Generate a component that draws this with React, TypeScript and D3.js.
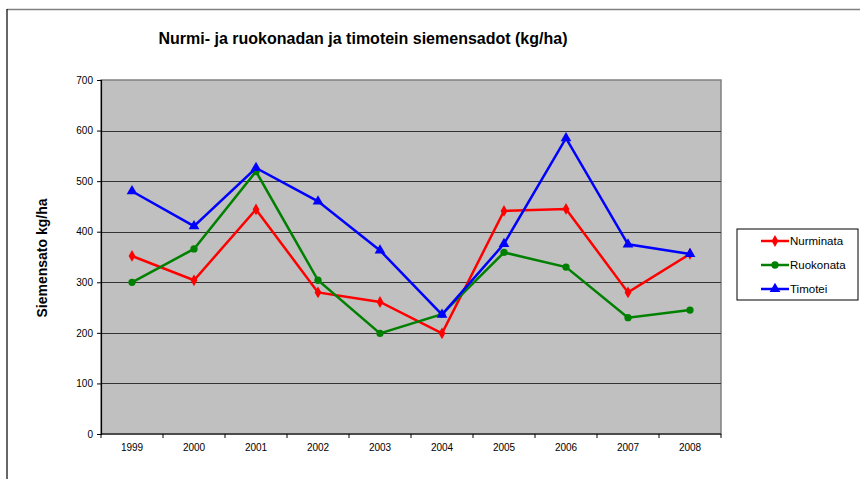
import React, { useEffect, useRef } from "react";
import * as d3 from "d3";

const years = ["1999", "2000", "2001", "2002", "2003", "2004", "2005", "2006", "2007", "2008"];
const nurminata = [352, 304, 444, 280, 261, 199, 441, 445, 280, 356];
const ruokonata = [300, 366, 519, 304, 199, 237, 359, 330, 230, 245];
const timotei = [480, 411, 526, 460, 363, 236, 376, 585, 375, 356];
const yTicks = [0, 100, 200, 300, 400, 500, 600, 700];

const series = [
  { name: "Nurminata", values: nurminata, color: "#FF0000", marker: "diamond" },
  { name: "Ruokonata", values: ruokonata, color: "#008000", marker: "circle" },
  { name: "Timotei", values: timotei, color: "#0000FF", marker: "triangle" },
];

const W = 860;
const H = 479;
const plot = { left: 101, top: 80, right: 721, bottom: 434 };
const font = "Arial, 'Liberation Sans', sans-serif";

const App = () => {
  const ref = useRef<SVGSVGElement>(null);

  useEffect(() => {
    const svg = d3.select(ref.current);
    svg.selectAll("*").remove();

    // outer frame
    svg.append("line").attr("x1", 7).attr("x2", W).attr("y1", 9.5).attr("y2", 9.5)
      .attr("stroke", "#808080").attr("stroke-width", 1.5);
    svg.append("line").attr("x1", 7).attr("x2", 7).attr("y1", 9).attr("y2", H)
      .attr("stroke", "#000").attr("stroke-width", 1.2);

    const x = d3.scaleBand().domain(years).range([plot.left, plot.right]);
    const y = d3.scaleLinear().domain([0, 700]).range([plot.bottom, plot.top]);

    svg.append("rect")
      .attr("x", plot.left).attr("y", plot.top)
      .attr("width", plot.right - plot.left).attr("height", plot.bottom - plot.top)
      .attr("fill", "#C0C0C0").attr("stroke", "#808080").attr("stroke-width", 1.5);

    // gridlines
    svg.append("g").selectAll("line")
      .data(yTicks.filter((t) => t > 0 && t < 700))
      .join("line")
      .attr("x1", plot.left).attr("x2", plot.right)
      .attr("y1", (d) => Math.round(y(d)) + 0.5).attr("y2", (d) => Math.round(y(d)) + 0.5)
      .attr("stroke", "#333").attr("stroke-width", 1.2);

    // y axis
    const ya = svg.append("g").attr("transform", `translate(${plot.left},0)`)
      .call(d3.axisLeft(y).tickValues(yTicks).tickSize(4).tickFormat(d3.format("d")));
    ya.select(".domain").attr("stroke", "#000").attr("stroke-width", 1.2);
    ya.selectAll(".tick line").attr("stroke", "#000");
    ya.selectAll("text").attr("font-family", font).attr("font-size", 10).attr("fill", "#000").attr("x", -8);

    // x axis
    const xa = svg.append("g").attr("transform", `translate(0,${plot.bottom})`);
    xa.append("line").attr("x1", plot.left).attr("x2", plot.right).attr("y1", 0).attr("y2", 0)
      .attr("stroke", "#000").attr("stroke-width", 1.2);
    xa.selectAll(".tk").data([...years.map((d) => x(d) as number), plot.right])
      .join("line").attr("class", "tk")
      .attr("x1", (d) => d).attr("x2", (d) => d).attr("y1", 0).attr("y2", 4)
      .attr("stroke", "#000");
    xa.selectAll("text").data(years).join("text")
      .attr("x", (d) => (x(d) as number) + x.bandwidth() / 2).attr("y", 17)
      .attr("text-anchor", "middle").attr("font-family", font).attr("font-size", 10)
      .text((d) => d);

    const cx = (i: number) => (x(years[i]) as number) + x.bandwidth() / 2;
    const line = d3.line<number>().x((_, i) => cx(i)).y((d) => y(d));

    const markerPath = (m: string) =>
      m === "diamond"
        ? d3.symbol(d3.symbolDiamond, 40)()
        : m === "circle"
        ? d3.symbol(d3.symbolCircle, 42)()
        : d3.symbol(d3.symbolTriangle, 50)();

    series.forEach((s) => {
      svg.append("path").datum(s.values).attr("d", line)
        .attr("fill", "none").attr("stroke", s.color).attr("stroke-width", 2.5);
      svg.append("g").selectAll("path").data(s.values).join("path")
        .attr("d", markerPath(s.marker) as string)
        .attr("transform", (d, i) => `translate(${cx(i)},${y(d)})`)
        .attr("fill", s.color);
    });

    // title
    svg.append("text").attr("x", 363).attr("y", 44).attr("text-anchor", "middle")
      .attr("font-family", font).attr("font-size", 16).attr("font-weight", "bold")
      .text("Nurmi- ja ruokonadan ja timotein siemensadot (kg/ha)");

    // y label
    svg.append("text").attr("transform", `translate(47,258) rotate(-90)`)
      .attr("text-anchor", "middle").attr("font-family", font).attr("font-size", 14)
      .attr("font-weight", "bold").text("Siemensato kg/ha");

    // legend
    const lg = svg.append("g");
    lg.append("rect").attr("x", 737).attr("y", 229).attr("width", 121).attr("height", 71)
      .attr("fill", "#fff").attr("stroke", "#000").attr("stroke-width", 1);
    series.forEach((s, i) => {
      const ly = 241 + i * 24;
      lg.append("line").attr("x1", 761).attr("x2", 789).attr("y1", ly).attr("y2", ly)
        .attr("stroke", s.color).attr("stroke-width", 2.5);
      lg.append("path").attr("d", markerPath(s.marker) as string)
        .attr("transform", `translate(775,${ly})`).attr("fill", s.color);
      lg.append("text").attr("x", 790).attr("y", ly + 4).attr("font-family", font)
        .attr("font-size", 11.5).text(s.name);
    });
  }, []);

  return (
    <svg ref={ref} width={W} height={H}
      style={{ position: "absolute", left: 0, top: 0, background: "#fff" }} />
  );
};

export default App;
